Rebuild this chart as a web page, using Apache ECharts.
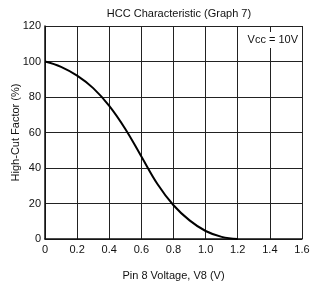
<!DOCTYPE html>
<html>
<head>
<meta charset="utf-8">
<title>HCC Characteristic</title>
<script src="https://cdn.jsdelivr.net/npm/echarts@6/dist/echarts.min.js"></script>
</head>
<body style="margin:0;background:#fff">
<div id="container" style="width:315px;height:283px"></div>
<script>
// curve
var voltage = [0, 0.1, 0.2, 0.3, 0.4, 0.5, 0.6, 0.7, 0.8, 0.9, 1.0, 1.1, 1.2];
var highCut = [100, 97, 92, 85, 75, 62, 46.5, 31, 19, 10.5, 4.5, 1.2, 0];
var xTicks = [0, 0.2, 0.4, 0.6, 0.8, 1.0, 1.2, 1.4, 1.6];

var fnt = 'Liberation Sans';
var chart = echarts.init(document.getElementById('container'));
var pts = voltage.map(function (v, i) { return [v, highCut[i]]; });

var option = {
  animation: false,
  title: {
    text: 'HCC Characteristic (Graph 7)',
    left: 174, top: 3, textAlign: 'center',
    textStyle: { fontFamily: fnt, fontSize: 11, fontWeight: 'normal', color: '#111' }
  },
  grid: { left: 45, right: 13, top: 26, bottom: 44, containLabel: false, outerBoundsMode: 'none' },
  xAxis: {
    type: 'value', min: 0, max: 1.6, interval: 0.2,
    name: 'Pin 8 Voltage, V8 (V)', nameLocation: 'middle', nameGap: 31,
    nameTextStyle: { fontFamily: fnt, fontSize: 11, color: '#111' },
    axisLine: { lineStyle: { color: '#111', width: 1.5 } },
    axisTick: { show: false },
    axisLabel: {
      fontFamily: fnt, fontSize: 11, color: '#111', margin: 5,
      formatter: function (v) { return v === 0 ? '0' : v.toFixed(1); }
    },
    splitLine: { show: true, lineStyle: { color: '#222', width: 1 } }
  },
  yAxis: {
    type: 'value', min: 0, max: 120, interval: 20,
    name: 'High-Cut Factor (%)', nameLocation: 'middle', nameGap: 24, nameMoveOverlap: false,
    nameTextStyle: { fontFamily: fnt, fontSize: 11, color: '#111' },
    axisLine: { show: true, lineStyle: { color: '#111', width: 1.5 } },
    axisTick: { show: false },
    axisLabel: { fontFamily: fnt, fontSize: 11, color: '#111', margin: 4 },
    splitLine: { show: true, lineStyle: { color: '#222', width: 1 } }
  },
  series: [{
    type: 'line', data: pts, smooth: 0.4, showSymbol: false,
    lineStyle: { color: '#000', width: 2 }
  }],
  graphic: [{
    type: 'text', right: 15, top: 32, z: 100,
    style: {
      text: 'Vcc = 10V', fontFamily: fnt, fontSize: 11, fill: '#111',
      backgroundColor: '#fff', padding: [2, 2, 3, 2]
    }
  }]
};
chart.setOption(option);
</script>
</body>
</html>
